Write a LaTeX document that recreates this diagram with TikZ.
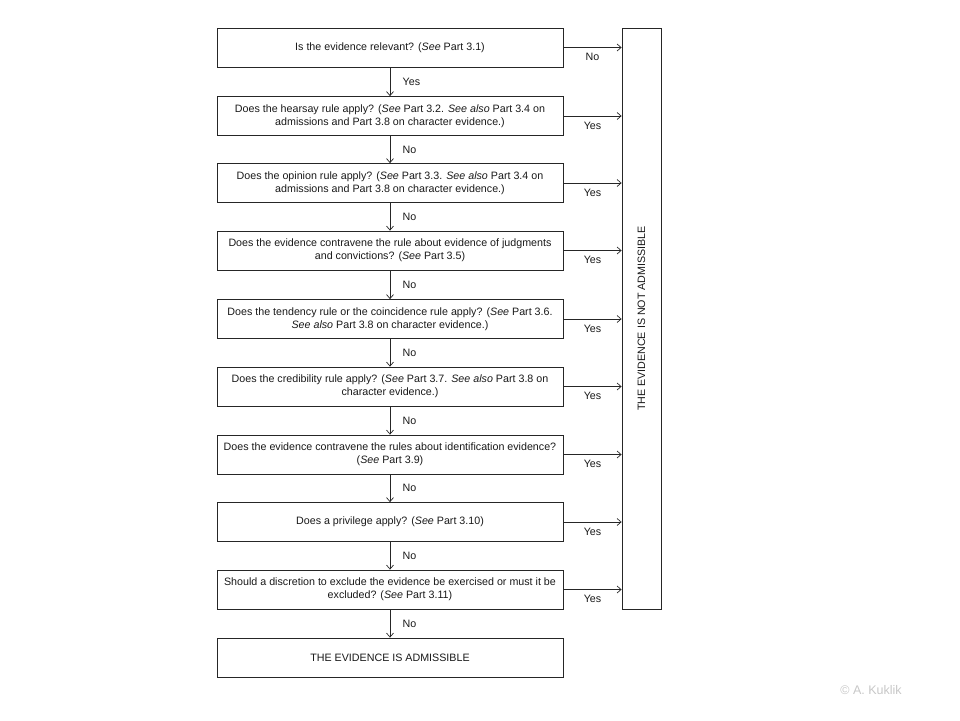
\documentclass[tikz,border=0pt]{standalone}
\usepackage{fontspec}
\setmainfont{Liberation Sans}
\usetikzlibrary{arrows.meta}
\begin{document}
\begin{tikzpicture}[x=1pt,y=-1pt,
  q/.style={draw=black!85, line width=0.8pt, minimum width=346pt, minimum height=39pt,
    inner sep=0pt, align=center, font=\fontsize{10.7}{12.7}\selectfont, text=black!90},
  lnk/.style={draw=black!85, line width=0.8pt, -{Straight Barb[length=4pt,width=7pt,line width=0.7pt]}},
  lbl/.style={font=\fontsize{10.7}{12}\selectfont, text=black!90}]
\useasboundingbox (0,0) rectangle (960,720);
\node[q] (b1) at (390,47.5) {Is the evidence relevant? (\textit{See} Part 3.1)};
\node[q] (b2) at (390,116) {Does the hearsay rule apply? (\textit{See} Part 3.2. \textit{See also} Part 3.4 on\\admissions and Part 3.8 on character evidence.)};
\node[q] (b3) at (390,183) {Does the opinion rule apply? (\textit{See} Part 3.3. \textit{See also} Part 3.4 on\\admissions and Part 3.8 on character evidence.)};
\node[q] (b4) at (390,250.5) {Does the evidence contravene the rule about evidence of judgments\\and convictions? (\textit{See} Part 3.5)};
\node[q] (b5) at (390,319) {Does the tendency rule or the coincidence rule apply? (\textit{See} Part 3.6.\\\textit{See also} Part 3.8 on character evidence.)};
\node[q] (b6) at (390,386.5) {Does the credibility rule apply? (\textit{See} Part 3.7. \textit{See also} Part 3.8 on\\character evidence.)};
\node[q] (b7) at (390,454.5) {Does the evidence contravene the rules about identification evidence?\\(\textit{See} Part 3.9)};
\node[q] (b8) at (390,522) {Does a privilege apply? (\textit{See} Part 3.10)};
\node[q] (b9) at (390,589.5) {Should a discretion to exclude the evidence be exercised or must it be\\excluded? (\textit{See} Part 3.11)};
\node[q] (b10) at (390,657.5) {THE EVIDENCE IS ADMISSIBLE};
\node[draw=black!85, line width=0.8pt, minimum width=39pt, minimum height=581pt, inner sep=0pt,
  font=\fontsize{10.7}{12}\selectfont, text=black!90] (na) at (641.5,318.5)
  {\rotatebox{90}{THE EVIDENCE IS NOT ADMISSIBLE}};
\node[text=black!22, font=\fontsize{12.5}{14}\selectfont] (cp) at (871,690) {© A. Kuklik};
\draw[lnk] (b1.east) -- node[lbl, below=2pt, midway] {No} (b1.east -| na.west);
\foreach \i in {2,...,9}{
  \draw[lnk] (b\i.east) -- node[lbl, below=2pt, midway] {Yes} (b\i.east -| na.west);
}
\draw[lnk] (b1.south) -- node[lbl, right=9pt, midway] {Yes} (b2.north);
\foreach \i/\j in {2/3,3/4,4/5,5/6,6/7,7/8,8/9,9/10}{
  \draw[lnk] (b\i.south) -- node[lbl, right=9pt, midway] {No} (b\j.north);
}
\end{tikzpicture}
\end{document}
